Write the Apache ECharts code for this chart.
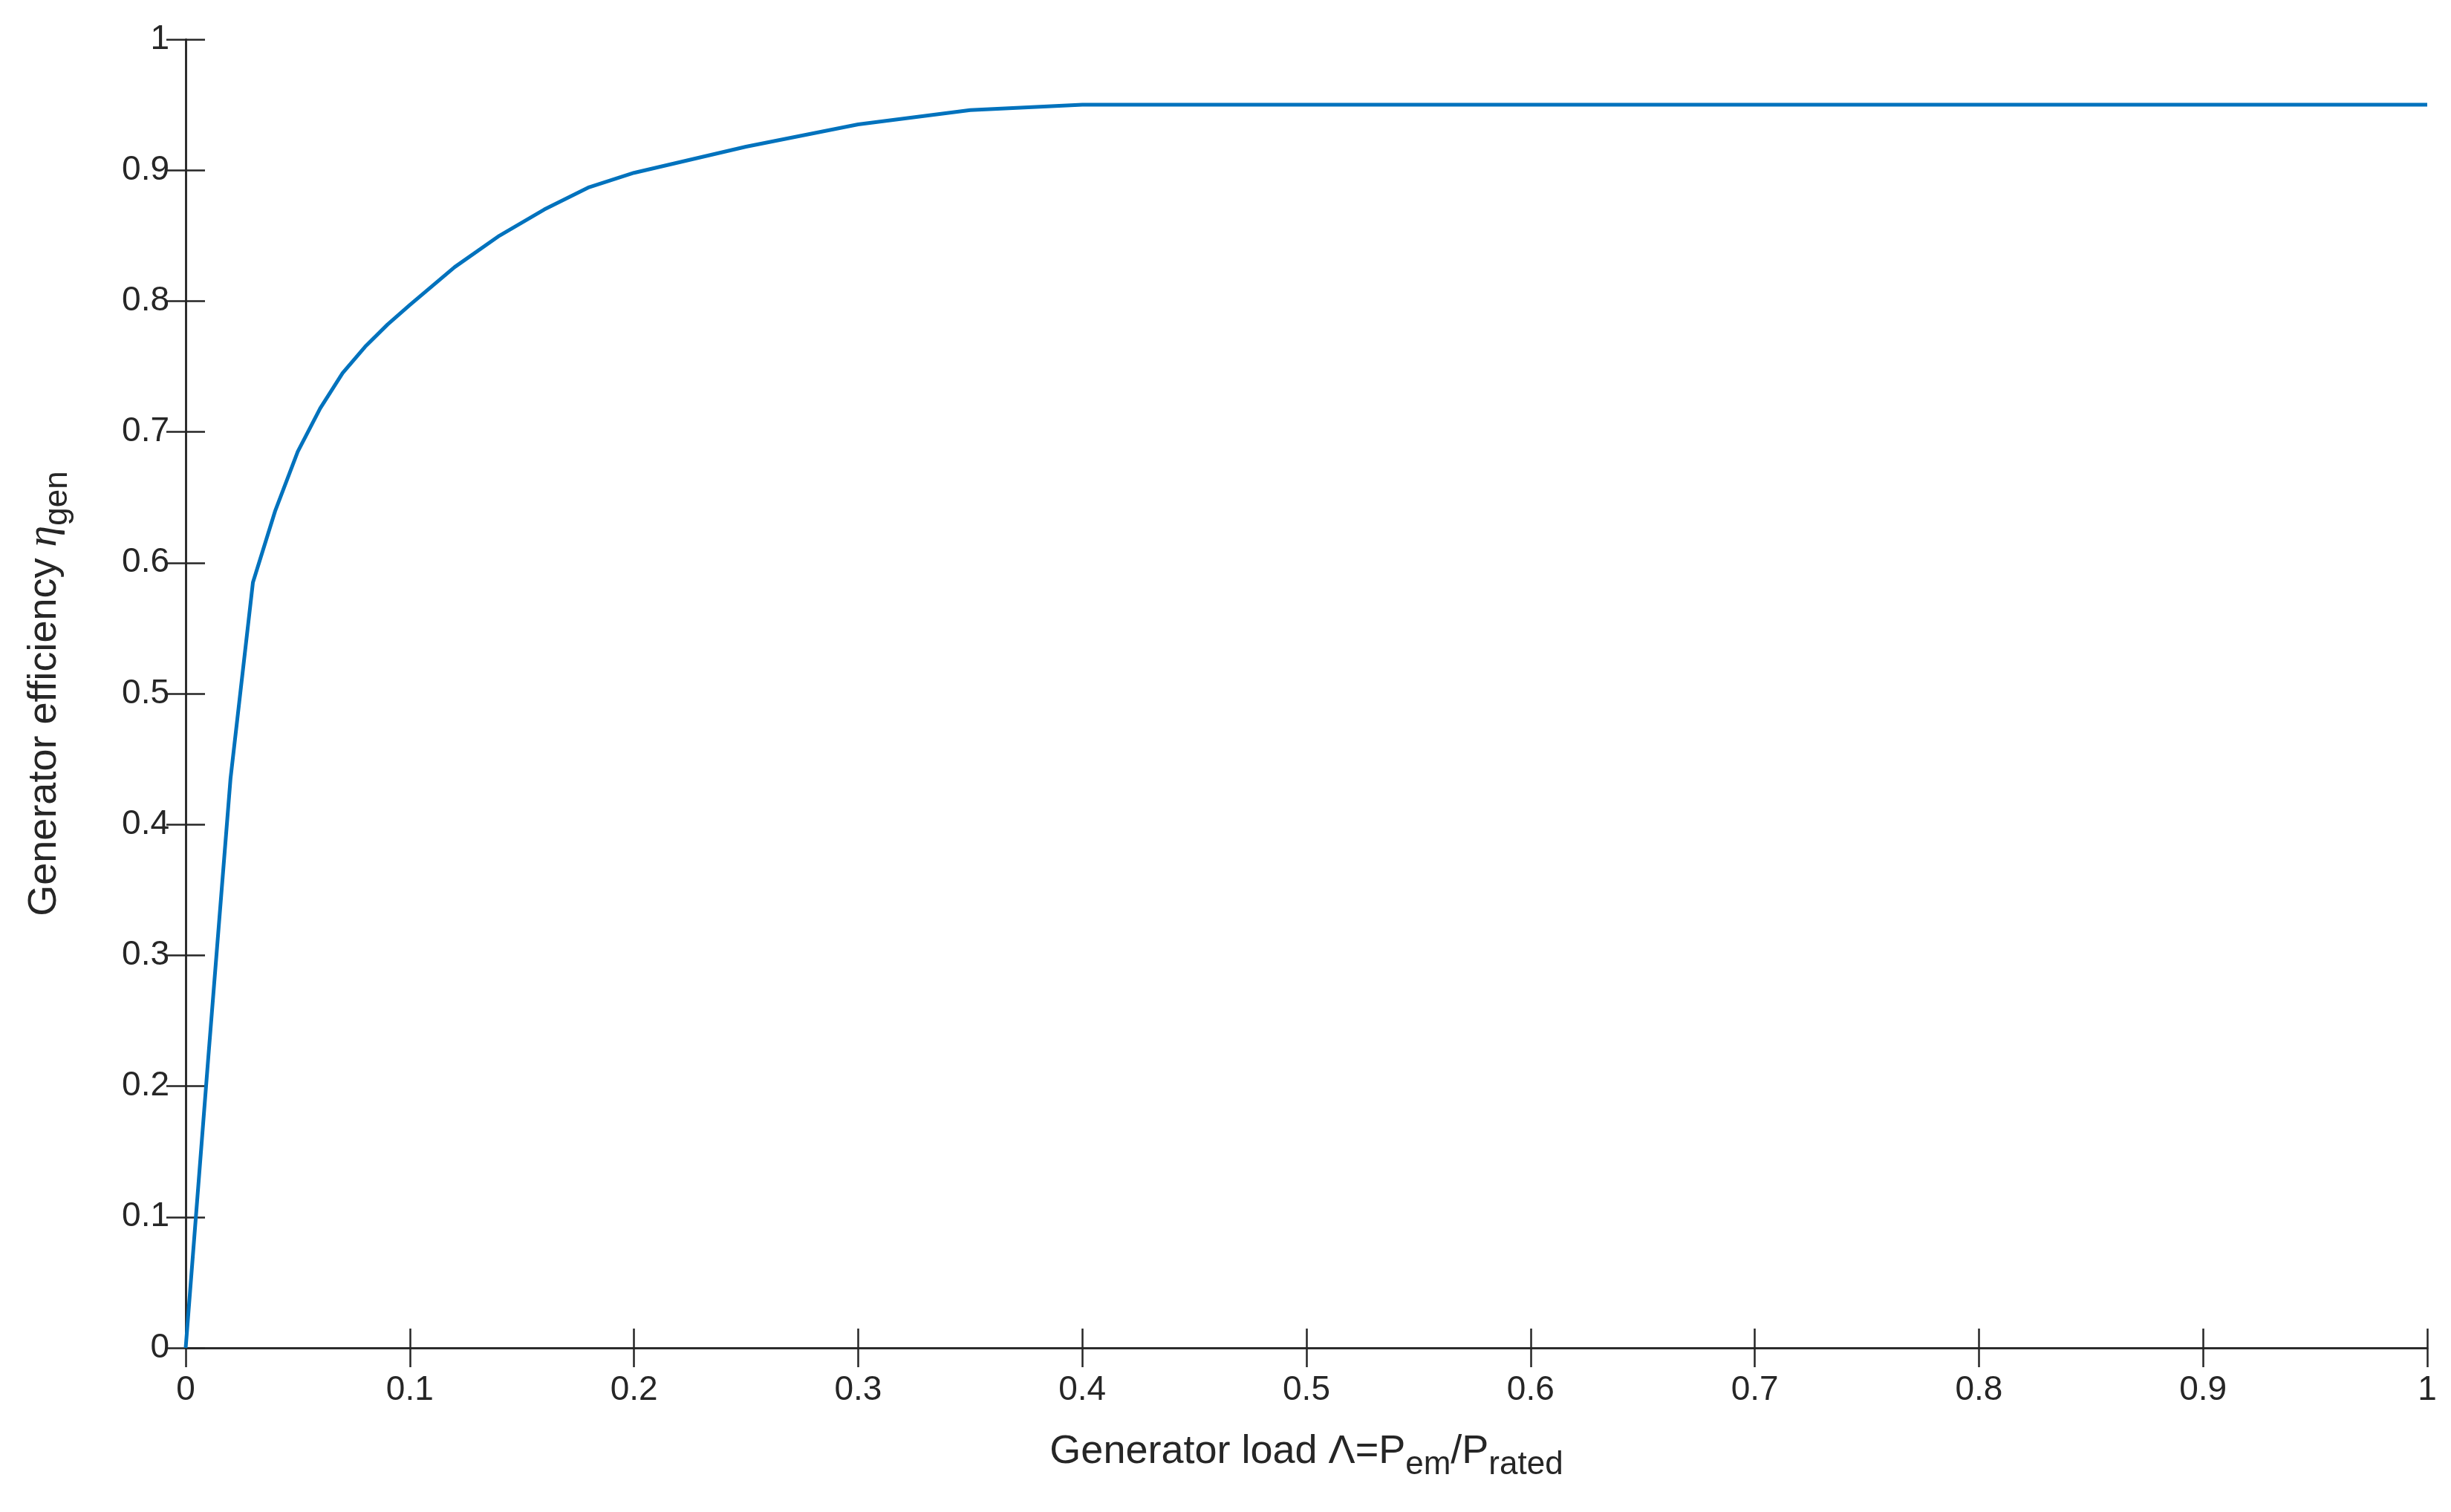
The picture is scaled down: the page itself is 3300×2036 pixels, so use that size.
<!DOCTYPE html>
<html><head><meta charset="utf-8">
<script src="https://cdn.jsdelivr.net/npm/echarts@6/dist/echarts.min.js"></script>
<style>html,body{margin:0;padding:0;background:#fff}#c{width:3300px;height:2036px}</style>
</head><body><div id="c"></div>
<script>
const loadX = [0,0.01,0.02,0.03,0.04,0.05,0.06,0.07,0.08,0.09,0.10,0.12,0.14,0.16,0.18,0.20,0.25,0.30,0.35,0.40,0.50,0.60,0.70,0.80,0.90,1.00];
const effY  = [0,0.22,0.435,0.585,0.64,0.685,0.718,0.745,0.765,0.782,0.797,0.826,0.85,0.87,0.887,0.898,0.918,0.935,0.946,0.95,0.95,0.95,0.95,0.95,0.95,0.95];
const data = loadX.map((x,i)=>[x,effY[i]]);
const font = 'Liberation Sans, Arial, sans-serif';
const axLine = {show:true, lineStyle:{color:'#262626', width:2.5}};
const tick = {show:true, inside:true, length:26, lineStyle:{color:'#262626', width:2.5}};
const fmt = v => (Math.round(v*10)/10).toString();
const chart = echarts.init(document.getElementById('c'));
chart.setOption({
  animation:false,
  backgroundColor:'#fff',
  grid:{left:250, right:32, top:53, bottom:221},
  xAxis:[{
    type:'value', min:0, max:1, interval:0.1, position:'bottom',
    axisLine:axLine, axisTick:tick, splitLine:{show:false},
    axisLabel:{fontFamily:font, fontSize:46, color:'#262626', margin:34, formatter:fmt},
    name:'{n|Generator load Λ=P}{s|em}{n|/P}{s|rated}', nameLocation:'middle', nameGap:100,
    nameTextStyle:{rich:{n:{fontFamily:font,fontSize:54,color:'#262626'},
                         s:{fontFamily:font,fontSize:44,color:'#262626',padding:[36,0,0,0]}}}
  },{
    type:'value', min:0, max:1, interval:0.1, position:'top',
    axisLine:axLine, axisTick:tick, axisLabel:{show:false}, splitLine:{show:false}
  }],
  yAxis:[{
    type:'value', min:0, max:1, interval:0.1, position:'left',
    axisLine:axLine, axisTick:tick, splitLine:{show:false},
    axisLabel:{fontFamily:font, fontSize:46, color:'#262626', margin:22, formatter:fmt},
    name:'{n|Generator efficiency }{g|η}{s|gen}', nameLocation:'middle', nameGap:150, nameRotate:90,
    nameTextStyle:{rich:{n:{fontFamily:font,fontSize:54,color:'#262626'},
                         g:{fontFamily:'Liberation Serif, serif',fontStyle:'italic',fontSize:58,color:'#262626'},
                         s:{fontFamily:font,fontSize:44,color:'#262626',padding:[36,0,0,0]}}}
  },{
    type:'value', min:0, max:1, interval:0.1, position:'right',
    axisLine:axLine, axisTick:tick, axisLabel:{show:false}, splitLine:{show:false}
  }],
  series:[{type:'line', data:data, showSymbol:false, smooth:false,
    lineStyle:{color:'#0072BD', width:5}}]
});
</script></body></html>
